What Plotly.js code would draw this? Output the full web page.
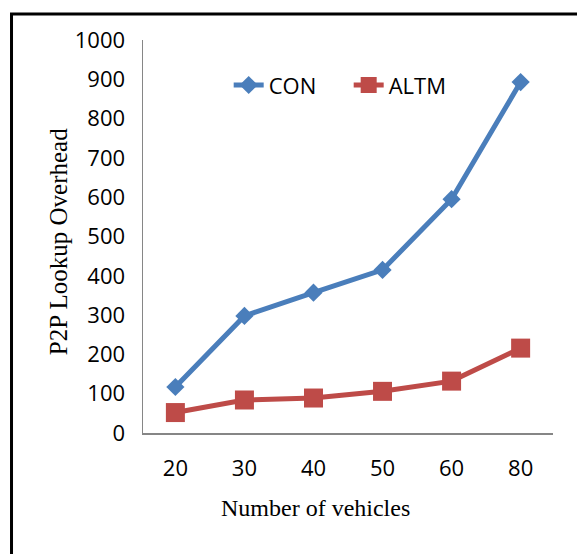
<!DOCTYPE html>
<html>
<head>
<meta charset="utf-8">
<script src="https://cdn.plot.ly/plotly-3.0.1.min.js"></script>
<style>html,body{margin:0;padding:0;background:#fff;}#chart{width:577px;height:554px;}</style>
</head>
<body>
<div id="chart"></div>
<script>
const categories = ["20", "30", "40", "50", "60", "80"];
const conValues = [117, 298, 357, 415, 595, 893];
const altmValues = [52, 84, 89, 106, 132, 216];
const yTickValues = [0, 100, 200, 300, 400, 500, 600, 700, 800, 900, 1000];
const seriesNames = ["CON", "ALTM"];
const xTitle = "Number of vehicles";
const yTitle = "P2P Lookup Overhead";

const traces = [
  {
    x: categories, y: conValues, name: seriesNames[0], type: "scatter", mode: "lines+markers",
    line: {color: "#4a7ebb", width: 5},
    marker: {symbol: "diamond", size: 14, color: "#4a7ebb"}
  },
  {
    x: categories, y: altmValues, name: seriesNames[1], type: "scatter", mode: "lines+markers",
    line: {color: "#be4b48", width: 5},
    marker: {symbol: "square", size: 19, color: "#be4b48"}
  }
];

const tickFont = {family: "'Open Sans', sans-serif", size: 22, color: "#000"};
const serif = "'Liberation Serif', 'Times New Roman', serif";

const layout = {
  width: 577, height: 554,
  margin: {l: 143, r: 24, t: 40, b: 121},
  paper_bgcolor: "#fff", plot_bgcolor: "#fff",
  font: tickFont,
  showlegend: true,
  legend: {orientation: "h", x: 0.209, y: 0.885, xanchor: "left", yanchor: "middle",
           font: {family: "'Open Sans', sans-serif", size: 22, color: "#000"}, bgcolor: "rgba(0,0,0,0)",
           entrywidth: 75, itemwidth: 30},
  xaxis: {type: "category", showgrid: false, zeroline: false, showline: true, linecolor: "#868686", linewidth: 1.5,
          ticks: "", ticklabelstandoff: 15, tickfont: tickFont, fixedrange: true},
  yaxis: {range: [0, 1000], tickvals: yTickValues, showgrid: false, zeroline: false, showline: true,
          linecolor: "#868686", linewidth: 1.5, ticks: "", ticklabelstandoff: 12, tickfont: tickFont, fixedrange: true},
  annotations: [
    {text: xTitle, xref: "paper", yref: "paper", x: 0.42, y: -0.19, xanchor: "center", yanchor: "middle",
     showarrow: false, font: {family: serif, size: 24, color: "#000"}},
    {text: yTitle, xref: "paper", yref: "paper", x: -0.207, y: 0.486, xanchor: "center", yanchor: "middle",
     textangle: -90, showarrow: false, font: {family: serif, size: 25, color: "#000"}}
  ],
  shapes: [
    {type: "rect", xref: "paper", yref: "paper", x0: -0.3207, x1: 1.3, y0: -0.6, y1: 1.066,
     line: {color: "#000", width: 3}, fillcolor: "rgba(0,0,0,0)", layer: "below"}
  ]
};

Plotly.newPlot("chart", traces, layout, {staticPlot: true, displayModeBar: false});
</script>
</body>
</html>
